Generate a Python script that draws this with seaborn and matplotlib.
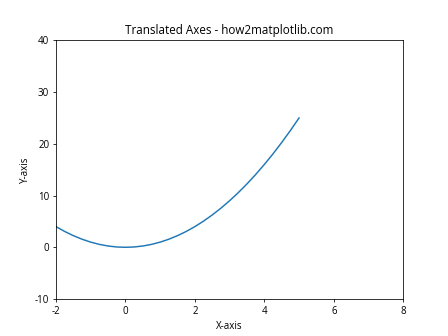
import matplotlib
matplotlib.use("Agg")
import matplotlib.pyplot as plt
import seaborn as sns
import pandas as pd

x_vals = [-2.0, -1.75, -1.5, -1.25, -1.0, -0.75, -0.5, -0.25, 0.0, 0.25, 0.5, 0.75,
          1.0, 1.25, 1.5, 1.75, 2.0, 2.25, 2.5, 2.75, 3.0, 3.25, 3.5, 3.75,
          4.0, 4.25, 4.5, 4.75, 5.0]
y_vals = [4.0, 3.06, 2.25, 1.56, 1.0, 0.56, 0.25, 0.06, 0.0, 0.06, 0.25, 0.56,
          1.0, 1.56, 2.25, 3.06, 4.0, 5.06, 6.25, 7.56, 9.0, 10.56, 12.25, 14.06,
          16.0, 18.06, 20.25, 22.56, 25.0]

title = "Translated Axes - how2matplotlib.com"
x_label = "X-axis"
y_label = "Y-axis"

plt.rcParams['font.family'] = ['Open Sans', 'DejaVu Sans']
plt.rcParams['axes.unicode_minus'] = False

df = pd.DataFrame({"x": x_vals, "y": y_vals})
fig, ax = plt.subplots(figsize=(6.4, 4.8), dpi=70)
sns.lineplot(data=df, x="x", y="y", ax=ax, color="#1f77b4", linewidth=1.5)
ax.set_xlim(-2, 8)
ax.set_ylim(-10, 40)
ax.set_title(title, fontsize=12)
ax.set_xlabel(x_label, fontsize=10)
ax.set_ylabel(y_label, fontsize=10)
fig.savefig("out.png", dpi=70)
